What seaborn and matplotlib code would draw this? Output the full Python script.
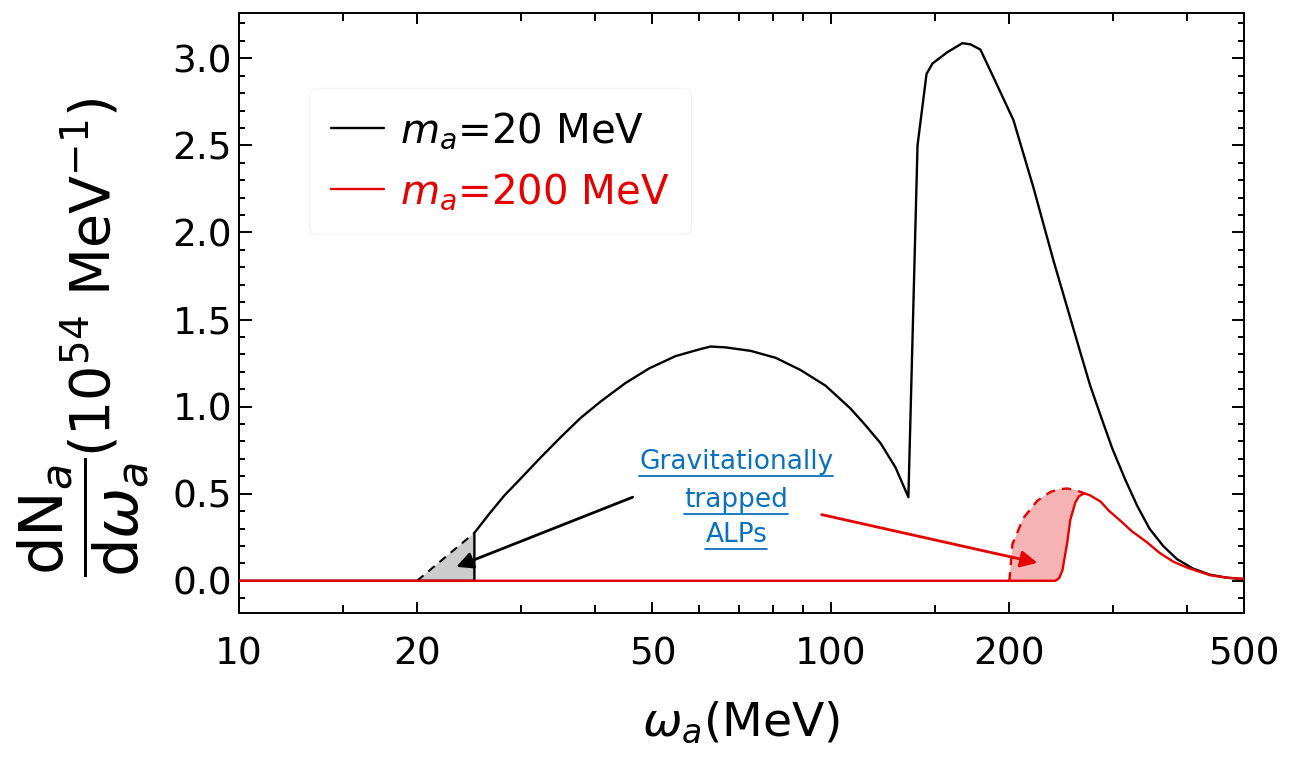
import numpy as np
import matplotlib
matplotlib.use("Agg")
import matplotlib.pyplot as plt
from matplotlib.lines import Line2D
from matplotlib.transforms import IdentityTransform
from matplotlib.ticker import FixedLocator, NullFormatter, FuncFormatter
import seaborn as sns

# ALP spectrum for m_a = 20 MeV (units of 1e54 MeV^-1)
omega_20 = [10, 25, 25, 26.5, 28.1, 29.9, 32.4, 35.0, 37.8, 40.9, 45.0, 49.4, 54.7, 60.2,
            62.7, 66.5, 73.3, 80.8, 89.0, 98.1, 108, 114.1, 121.5, 128.8, 135.4,
            140.3, 145.3, 148.7, 157.6, 167.1, 172.4, 179.2, 188.6, 203.8, 220.2, 238.1,
            264.5, 274.8, 286, 299.4, 315, 330, 346, 365, 385, 410, 438, 467, 500]
dnda_20 = [0.0, 0.0, 0.275, 0.385, 0.49, 0.585, 0.71, 0.825, 0.935, 1.03, 1.135, 1.22,
           1.29, 1.33, 1.345, 1.34, 1.32, 1.28, 1.21, 1.12, 0.99, 0.90, 0.79, 0.65, 0.48,
           2.50, 2.91, 2.97, 3.035, 3.087, 3.08, 3.05, 2.89, 2.645, 2.26, 1.84,
           1.31, 1.12, 0.95, 0.76, 0.58, 0.43, 0.30, 0.20, 0.125, 0.07, 0.035, 0.018, 0.01]

# gravitationally trapped part for m_a = 20 MeV
omega_20_trap = [20, 25]
dnda_20_trap = [0.0, 0.275]

# ALP spectrum for m_a = 200 MeV
omega_200 = [10, 240, 243.5, 246.6, 251.3, 254.3, 259.3, 263, 267.6, 269.6, 274.8, 286,
             296, 309, 323, 343, 360, 379.6, 401, 438, 467, 500]
dnda_200 = [0.0, 0.0, 0.015, 0.06, 0.22, 0.35, 0.45, 0.485, 0.50, 0.50, 0.49, 0.455,
            0.40, 0.345, 0.285, 0.22, 0.16, 0.11, 0.075, 0.032, 0.018, 0.01]

# total spectrum including the trapped ALPs for m_a = 200 MeV
omega_200_trap = [200, 200.6, 203, 211.8, 223.7, 235.3, 243, 251, 260, 269.6]
dnda_200_trap = [0.0, 0.0, 0.21, 0.36, 0.46, 0.51, 0.525, 0.53, 0.52, 0.50]

x_major = [10, 20, 50, 100, 200, 500]
x_minor = [15, 30, 40, 60, 70, 80, 90, 150, 300, 400]
y_major = [0.0, 0.5, 1.0, 1.5, 2.0, 2.5, 3.0]

series_labels = [r"$m_a$=20 MeV", r"$m_a$=200 MeV"]
note_lines = ["Gravitationally", "trapped", "ALPs"]
ylabel_frac = r"$\dfrac{\mathrm{dN}_a}{\mathrm{d}\omega_a}$"
ylabel_unit = r"(10$^{54}$ MeV$^{-1}$)"
xlabel = r"$\omega_a$(MeV)"

BLACK = "#000000"
RED = "#e60000"
BLUE = "#0a70c0"

sns.set_theme(style="ticks")
plt.rcParams["font.family"] = ["DejaVu Sans"]
plt.rcParams["mathtext.fontset"] = "dejavusans"
plt.rcParams["text.color"] = "black"
plt.rcParams["axes.labelcolor"] = "black"

fig = plt.figure(figsize=(12.89, 7.61), dpi=100)
ax = fig.add_axes([239 / 1289, 1 - 613 / 761, (1244 - 239) / 1289, (613 - 13) / 761])

# shaded regions of trapped ALPs
ax.fill(omega_20_trap + [omega_20_trap[-1]], dnda_20_trap + [0.0],
        color="#cccccc", lw=0, zorder=1)
lo_x = [w for w in omega_200 if 200 <= w <= 270][::-1]
lo_y = [d for w, d in zip(omega_200, dnda_200) if 200 <= w <= 270][::-1]
ax.fill(omega_200_trap + lo_x + [200], dnda_200_trap + lo_y + [0.0],
        color="#f5b3b3", lw=0, zorder=1)

sns.lineplot(x=omega_20_trap, y=dnda_20_trap, ax=ax, color=BLACK, lw=1.5,
             linestyle=(0, (4, 3)), sort=False, estimator=None, zorder=2)
sns.lineplot(x=omega_20, y=dnda_20, ax=ax, color=BLACK, lw=1.7,
             sort=False, estimator=None, zorder=3)
sns.lineplot(x=omega_200_trap, y=dnda_200_trap, ax=ax, color=RED, lw=1.7,
             linestyle=(0, (4, 3)), sort=False, estimator=None, zorder=3)
sns.lineplot(x=omega_200, y=dnda_200, ax=ax, color=RED, lw=1.7,
             sort=False, estimator=None, zorder=4)

ax.set_xscale("log")
ax.set_xlim(10, 500)
ax.set_ylim(-0.185, 3.26)
ax.xaxis.set_major_locator(FixedLocator(x_major))
ax.xaxis.set_minor_locator(FixedLocator(x_minor))
ax.xaxis.set_major_formatter(FuncFormatter(lambda v, p: f"{v:g}"))
ax.xaxis.set_minor_formatter(NullFormatter())
ax.yaxis.set_major_locator(FixedLocator(y_major))
ax.yaxis.set_minor_locator(FixedLocator(np.arange(-0.1, 3.25, 0.1)))
ax.yaxis.set_major_formatter(FuncFormatter(lambda v, p: f"{v:.1f}"))

for s in ax.spines.values():
    s.set_visible(True)
    s.set_linewidth(1.4)
    s.set_color("black")
ax.tick_params(which="both", direction="in", top=True, right=True,
               colors="black", width=1.4, labelsize=27)
ax.tick_params(axis="x", which="major", length=8, pad=17)
ax.tick_params(axis="x", which="minor", length=6)
ax.tick_params(axis="y", which="major", length=9, pad=5)
ax.tick_params(axis="y", which="minor", length=4.5)

ax.set_xlabel(xlabel, fontsize=34)
ax.xaxis.set_label_coords(0.5, -0.145)

# y label: large fraction plus the unit string stacked above it
ax.set_ylabel(ylabel_frac, fontsize=44)
ax.yaxis.set_label_coords(-0.088, 0.16)
ax.annotate(ylabel_unit, xy=(0.56, 1.0), xycoords=ax.yaxis.label, rotation=90,
            ha="center", va="bottom", fontsize=40, annotation_clip=False)

handles = [Line2D([], [], color=BLACK, lw=1.7), Line2D([], [], color=RED, lw=1.7)]
leg = ax.legend(handles, series_labels, loc="upper left", bbox_to_anchor=(0.0697, 0.875),
                borderaxespad=0, fontsize=29, handlelength=1.3, handletextpad=0.4,
                labelspacing=0.5, borderpad=0.55, frameon=True, fancybox=True)
leg.get_frame().set_edgecolor("#f0f0f0")
leg.get_frame().set_linewidth(1.0)
for txt, c in zip(leg.get_texts(), [BLACK, RED]):
    txt.set_color(c)

# annotation arrows pointing at the trapped regions
ax.annotate("", xy=(23.3, 0.08), xytext=(46.3, 0.48),
            arrowprops=dict(arrowstyle="-|>", color=BLACK, lw=2, mutation_scale=25,
                            shrinkA=0, shrinkB=0), zorder=5)
ax.annotate("", xy=(223.7, 0.103), xytext=(96.6, 0.38),
            arrowprops=dict(arrowstyle="-|>", color=RED, lw=2, mutation_scale=25,
                            shrinkA=0, shrinkB=0), zorder=5)

note_y = [0.68, 0.465, 0.26]
texts = [ax.text(69.3, y, s, color=BLUE, fontsize=19, ha="center", va="center", zorder=6)
         for s, y in zip(note_lines, note_y)]

fig.canvas.draw()
renderer = fig.canvas.get_renderer()
for t in texts:
    bb = t.get_window_extent(renderer)
    fig.add_artist(Line2D([bb.x0, bb.x1], [bb.y0 - 1, bb.y0 - 1], color=BLUE, lw=1.3,
                          transform=IdentityTransform()))

fig.savefig("out.png", dpi=100)
